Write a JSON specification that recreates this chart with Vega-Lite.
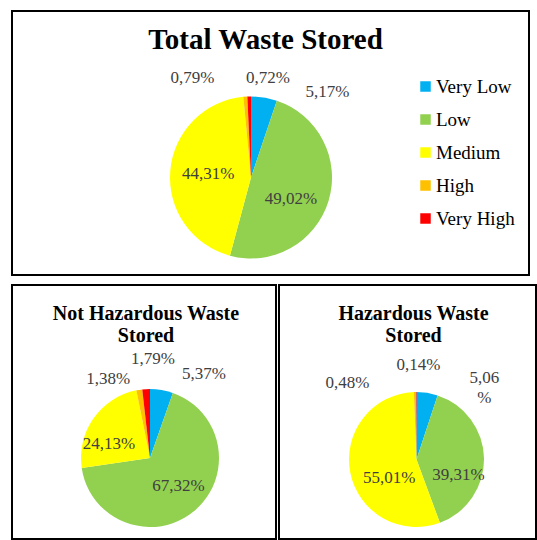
{
  "$schema": "https://vega.github.io/schema/vega-lite/v6.json",
  "background": "white",
  "padding": {"left": 11, "top": 10, "right": 0, "bottom": 0},
  "spacing": 10,
  "bounds": "flush",
  "datasets": {
    "total": [
      {"cat": "Very Low", "ord": 1, "pct": 5.17, "label": "5,17%"},
      {"cat": "Low", "ord": 2, "pct": 49.02, "label": "49,02%"},
      {"cat": "Medium", "ord": 3, "pct": 44.31, "label": "44,31%"},
      {"cat": "High", "ord": 4, "pct": 0.79, "label": "0,79%"},
      {"cat": "Very High", "ord": 5, "pct": 0.72, "label": "0,72%"}
    ],
    "nonhaz": [
      {"cat": "Very Low", "ord": 1, "pct": 5.37, "label": "5,37%"},
      {"cat": "Low", "ord": 2, "pct": 67.32, "label": "67,32%"},
      {"cat": "Medium", "ord": 3, "pct": 24.13, "label": "24,13%"},
      {"cat": "High", "ord": 4, "pct": 1.38, "label": "1,38%"},
      {"cat": "Very High", "ord": 5, "pct": 1.79, "label": "1,79%"}
    ],
    "haz": [
      {"cat": "Very Low", "ord": 1, "pct": 5.06, "label": "5,06\n%"},
      {"cat": "Low", "ord": 2, "pct": 39.31, "label": "39,31%"},
      {"cat": "Medium", "ord": 3, "pct": 55.01, "label": "55,01%"},
      {"cat": "High", "ord": 4, "pct": 0.48, "label": "0,48%"},
      {"cat": "Very High", "ord": 5, "pct": 0.14, "label": "0,14%"}
    ],
    "frame": [{"box": 1}]
  },
  "resolve": {"scale": {"color": "independent", "theta": "independent"}, "legend": {"color": "independent"}},
  "vconcat": [
    {
      "width": 517,
      "height": 264,
      "data": {"name": "total"},
      "title": {"text": "Total Waste Stored", "fontSize": 29, "baseline": "alphabetic", "frame": "group", "offset": -68, "dx": -5},
      "layer": [
        {
          "data": {"name": "frame"},
          "mark": {"type": "rect", "fill": null, "stroke": "black", "strokeWidth": 2},
          "encoding": {"x": {"value": 0}, "x2": {"value": "width"}, "y": {"value": 0}, "y2": {"value": "height"}}
        },
        {
          "mark": {"type": "arc", "outerRadius": 81, "xOffset": -19.5, "yOffset": 34.5},
          "encoding": {
            "theta": {"field": "pct", "type": "quantitative", "stack": true},
            "order": {"field": "ord", "type": "quantitative"},
            "color": {
              "field": "cat", "type": "nominal",
              "scale": {"domain": ["Very Low", "Low", "Medium", "High", "Very High"], "range": ["#00B0F0", "#92D050", "#FFFF00", "#FFC000", "#FF0000"]},
              "legend": {"title": null, "orient": "none", "legendX": 404, "legendY": 66, "symbolType": "square", "symbolSize": 110, "symbolStrokeWidth": 0, "labelFont": "Liberation Serif", "labelFontSize": 19, "labelColor": "black", "rowPadding": 13, "labelOffset": 1}
            }
          }
        },
        {"mark": {"type": "text", "radius": 95, "dx": 61, "dy": 8.5, "xOffset": -19.5, "yOffset": 34.5},
         "encoding": {"theta": {"field": "pct", "type": "quantitative", "stack": true}, "order": {"field": "ord", "type": "quantitative"},
           "text": {"condition": {"test": "datum.cat === 'Very Low'", "field": "label"}, "value": ""}}},
        {"mark": {"type": "text", "radius": 45, "dx": -3, "dy": 8, "xOffset": -19.5, "yOffset": 34.5},
         "encoding": {"theta": {"field": "pct", "type": "quantitative", "stack": true}, "order": {"field": "ord", "type": "quantitative"},
           "text": {"condition": {"test": "datum.cat === 'Low'", "field": "label"}, "value": ""}}},
        {"mark": {"type": "text", "radius": 43, "dx": 0, "dy": 0, "xOffset": -19.5, "yOffset": 34.5},
         "encoding": {"theta": {"field": "pct", "type": "quantitative", "stack": true}, "order": {"field": "ord", "type": "quantitative"},
           "text": {"condition": {"test": "datum.cat === 'Medium'", "field": "label"}, "value": ""}}},
        {"mark": {"type": "text", "radius": 95, "dx": -52, "dy": -4.5, "xOffset": -19.5, "yOffset": 34.5},
         "encoding": {"theta": {"field": "pct", "type": "quantitative", "stack": true}, "order": {"field": "ord", "type": "quantitative"},
           "text": {"condition": {"test": "datum.cat === 'High'", "field": "label"}, "value": ""}}},
        {"mark": {"type": "text", "radius": 95, "dx": 19, "dy": -4.5, "xOffset": -19.5, "yOffset": 34.5},
         "encoding": {"theta": {"field": "pct", "type": "quantitative", "stack": true}, "order": {"field": "ord", "type": "quantitative"},
           "text": {"condition": {"test": "datum.cat === 'Very High'", "field": "label"}, "value": ""}}}
      ]
    },
    {
      "spacing": 3,
      "bounds": "flush",
      "resolve": {"scale": {"color": "independent", "theta": "independent"}, "legend": {"color": "independent"}},
      "hconcat": [
        {
          "width": 264,
          "height": 254,
          "data": {"name": "nonhaz"},
          "title": {"text": ["Not Hazardous Waste", "Stored"], "fontSize": 20, "lineHeight": 22, "baseline": "alphabetic", "frame": "group", "offset": -78, "dx": 2},
          "layer": [
            {
              "data": {"name": "frame"},
              "mark": {"type": "rect", "fill": null, "stroke": "black", "strokeWidth": 2},
              "encoding": {"x": {"value": 0}, "x2": {"value": "width"}, "y": {"value": 0}, "y2": {"value": "height"}}
            },
            {
              "mark": {"type": "arc", "outerRadius": 69, "xOffset": 6, "yOffset": 46},
              "encoding": {
                "theta": {"field": "pct", "type": "quantitative", "stack": true},
                "order": {"field": "ord", "type": "quantitative"},
                "color": {
                  "field": "cat", "type": "nominal",
                  "scale": {"domain": ["Very Low", "Low", "Medium", "High", "Very High"], "range": ["#00B0F0", "#92D050", "#FFFF00", "#FFC000", "#FF0000"]},
                  "legend": null
                }
              }
            },
            {"mark": {"type": "text", "radius": 83, "dx": 40, "dy": -2, "xOffset": 6, "yOffset": 46},
             "encoding": {"theta": {"field": "pct", "type": "quantitative", "stack": true}, "order": {"field": "ord", "type": "quantitative"},
               "text": {"condition": {"test": "datum.cat === 'Very Low'", "field": "label"}, "value": ""}}},
            {"mark": {"type": "text", "radius": 40, "dx": 3, "dy": -3, "xOffset": 6, "yOffset": 46},
             "encoding": {"theta": {"field": "pct", "type": "quantitative", "stack": true}, "order": {"field": "ord", "type": "quantitative"},
               "text": {"condition": {"test": "datum.cat === 'Low'", "field": "label"}, "value": ""}}},
            {"mark": {"type": "text", "radius": 43, "dx": -6, "dy": 11, "xOffset": 6, "yOffset": 46},
             "encoding": {"theta": {"field": "pct", "type": "quantitative", "stack": true}, "order": {"field": "ord", "type": "quantitative"},
               "text": {"condition": {"test": "datum.cat === 'Medium'", "field": "label"}, "value": ""}}},
            {"mark": {"type": "text", "radius": 83, "dx": -29, "dy": 2.5, "xOffset": 6, "yOffset": 46},
             "encoding": {"theta": {"field": "pct", "type": "quantitative", "stack": true}, "order": {"field": "ord", "type": "quantitative"},
               "text": {"condition": {"test": "datum.cat === 'High'", "field": "label"}, "value": ""}}},
            {"mark": {"type": "text", "radius": 83, "dx": 7.6, "dy": -16.6, "xOffset": 6, "yOffset": 46},
             "encoding": {"theta": {"field": "pct", "type": "quantitative", "stack": true}, "order": {"field": "ord", "type": "quantitative"},
               "text": {"condition": {"test": "datum.cat === 'Very High'", "field": "label"}, "value": ""}}}
          ]
        },
        {
          "width": 257,
          "height": 254,
          "data": {"name": "haz"},
          "title": {"text": ["Hazardous Waste", "Stored"], "fontSize": 20, "lineHeight": 22, "baseline": "alphabetic", "frame": "group", "offset": -78, "dx": 6},
          "layer": [
            {
              "data": {"name": "frame"},
              "mark": {"type": "rect", "fill": null, "stroke": "black", "strokeWidth": 2},
              "encoding": {"x": {"value": 0}, "x2": {"value": "width"}, "y": {"value": 0}, "y2": {"value": "height"}}
            },
            {
              "mark": {"type": "arc", "outerRadius": 67.5, "xOffset": 9, "yOffset": 47.5},
              "encoding": {
                "theta": {"field": "pct", "type": "quantitative", "stack": true},
                "order": {"field": "ord", "type": "quantitative"},
                "color": {
                  "field": "cat", "type": "nominal",
                  "scale": {"domain": ["Very Low", "Low", "Medium", "High", "Very High"], "range": ["#00B0F0", "#92D050", "#FFFF00", "#FFC000", "#FF0000"]},
                  "legend": null
                }
              }
            },
            {"mark": {"type": "text", "radius": 81.5, "dx": 55, "dy": -1, "lineBreak": "\n", "lineHeight": 20, "xOffset": 9, "yOffset": 47.5},
             "encoding": {"theta": {"field": "pct", "type": "quantitative", "stack": true}, "order": {"field": "ord", "type": "quantitative"},
               "text": {"condition": {"test": "datum.cat === 'Very Low'", "field": "label"}, "value": ""}}},
            {"mark": {"type": "text", "radius": 44.6, "dx": -2.6, "dy": 15.8, "xOffset": 9, "yOffset": 47.5},
             "encoding": {"theta": {"field": "pct", "type": "quantitative", "stack": true}, "order": {"field": "ord", "type": "quantitative"},
               "text": {"condition": {"test": "datum.cat === 'Low'", "field": "label"}, "value": ""}}},
            {"mark": {"type": "text", "radius": 33, "dx": 5, "dy": 11.6, "xOffset": 9, "yOffset": 47.5},
             "encoding": {"theta": {"field": "pct", "type": "quantitative", "stack": true}, "order": {"field": "ord", "type": "quantitative"},
               "text": {"condition": {"test": "datum.cat === 'Medium'", "field": "label"}, "value": ""}}},
            {"mark": {"type": "text", "radius": 81.5, "dx": -67, "dy": 5, "xOffset": 9, "yOffset": 47.5},
             "encoding": {"theta": {"field": "pct", "type": "quantitative", "stack": true}, "order": {"field": "ord", "type": "quantitative"},
               "text": {"condition": {"test": "datum.cat === 'High'", "field": "label"}, "value": ""}}},
            {"mark": {"type": "text", "radius": 81.5, "dx": 2.4, "dy": -13.5, "xOffset": 9, "yOffset": 47.5},
             "encoding": {"theta": {"field": "pct", "type": "quantitative", "stack": true}, "order": {"field": "ord", "type": "quantitative"},
               "text": {"condition": {"test": "datum.cat === 'Very High'", "field": "label"}, "value": ""}}}
          ]
        }
      ]
    }
  ],
  "config": {
    "view": {"stroke": null},
    "title": {"font": "Liberation Serif", "fontWeight": "bold", "color": "black", "anchor": "middle"},
    "text": {"font": "Liberation Serif", "fontSize": 17, "color": "#404040"}
  }
}
